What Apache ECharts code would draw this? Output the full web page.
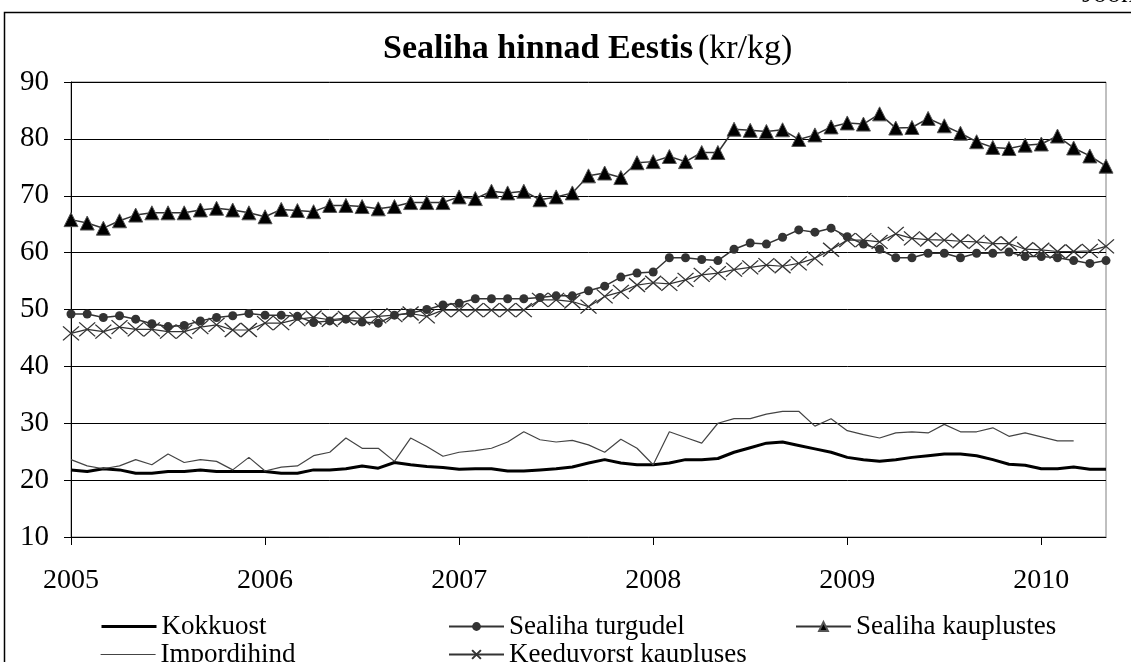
<!DOCTYPE html>
<html>
<head>
<meta charset="utf-8">
<script src="https://cdn.jsdelivr.net/npm/echarts@6/dist/echarts.min.js"></script>
<style>
  html, body { margin: 0; padding: 0; background: #fff; }
  #chart { width: 1131px; height: 662px; }
</style>
</head>
<body>
<div id="chart"></div>
<script>
// kuud jaan 2005 .. mai 2010
const years = ['2005', '2006', '2007', '2008', '2009', '2010']
const months = []
for (let y = 2005; y <= 2010; y++) {
  for (let m = 1; m <= 12; m++) {
    if (y === 2010 && m > 5) break
    months.push(y + '-' + (m < 10 ? '0' + m : m))
  }
}

const kokkuost = [
  21.8, 21.5, 22.0, 21.8, 21.2, 21.2, 21.5, 21.5, 21.8, 21.5, 21.5, 21.5,
  21.5, 21.2, 21.2, 21.8, 21.8, 22.0, 22.5, 22.1, 23.1, 22.7, 22.4, 22.2,
  21.9, 22.0, 22.0, 21.6, 21.6, 21.8, 22.0, 22.3, 23.0, 23.6, 23.0, 22.7,
  22.7, 23.0, 23.6, 23.6, 23.8, 24.9, 25.7, 26.5, 26.7, 26.1, 25.5, 24.9,
  24.0, 23.6, 23.3, 23.6, 24.0, 24.3, 24.6, 24.6, 24.3, 23.6, 22.8, 22.6,
  22.0, 22.0, 22.3, 21.9, 21.9
]
const impordihind = [
  23.6, 22.5, 22.0, 22.5, 23.6, 22.7, 24.6, 23.1, 23.6, 23.3, 21.8, 24.0,
  21.6, 22.3, 22.5, 24.3, 24.9, 27.4, 25.6, 25.6, 23.3, 27.4, 25.9, 24.2,
  24.9, 25.2, 25.6, 26.7, 28.5, 27.1, 26.7, 27.0, 26.2, 24.9, 27.2, 25.6,
  22.7, 28.5, 27.5, 26.5, 30.0, 30.8, 30.8, 31.6, 32.1, 32.1, 29.5, 30.8,
  28.7, 28.0, 27.4, 28.3, 28.5, 28.3, 29.8, 28.5, 28.5, 29.2, 27.7, 28.3,
  27.6, 26.9, 26.9, null, null
]
const sealihaTurgudel = [
  49.2, 49.2, 48.6, 48.9, 48.3, 47.5, 47.0, 47.2, 48.0, 48.6, 48.9, 49.3,
  49.0, 49.0, 48.8, 47.7, 48.0, 48.3, 47.8, 47.6, 49.0, 49.4, 50.0, 50.8,
  51.1, 51.9, 51.9, 51.9, 51.9, 52.1, 52.4, 52.4, 53.3, 54.1, 55.7, 56.4,
  56.6, 59.1, 59.1, 58.8, 58.6, 60.6, 61.7, 61.5, 62.7, 64.0, 63.6, 64.3,
  62.8, 61.5, 60.6, 59.1, 59.1, 59.9, 59.9, 59.1, 59.9, 59.9, 60.1, 59.3,
  59.3, 59.1, 58.6, 58.1, 58.6
]
const keeduvorst = [
  45.8, 46.5, 46.1, 46.9, 46.5, 46.5, 46.1, 46.1, 46.9, 47.3, 46.4, 46.4,
  47.6, 47.6, 48.3, 48.6, 48.2, 48.5, 48.5, 48.8, 49.0, 49.3, 48.8, 49.9,
  49.9, 49.9, 49.9, 49.9, 49.9, 51.7, 51.7, 51.4, 50.5, 52.3, 53.1, 54.3,
  54.7, 54.5, 55.2, 56.1, 56.4, 57.0, 57.4, 57.8, 57.6, 58.1, 59.0, 60.5,
  62.2, 62.2, 61.9, 63.3, 62.5, 62.3, 62.2, 62.0, 61.9, 61.6, 61.6, 60.6,
  60.5, 60.2, 60.2, 60.3, 61.1
]
const sealihaKauplustes = [
  65.8, 65.2, 64.3, 65.6, 66.6, 67.0, 67.0, 67.0, 67.5, 67.8, 67.5, 67.0,
  66.3, 67.6, 67.4, 67.2, 68.3, 68.3, 68.1, 67.7, 68.1, 68.8, 68.8, 68.8,
  69.8, 69.5, 70.8, 70.5, 70.8, 69.3, 69.8, 70.5, 73.5, 74.0, 73.2, 75.8,
  76.0, 76.9, 76.0, 77.6, 77.6, 81.7, 81.5, 81.3, 81.6, 79.9, 80.7, 82.1,
  82.8, 82.6, 84.4, 81.9, 82.0, 83.6, 82.3, 81.0, 79.5, 78.5, 78.3, 78.9,
  79.1, 80.5, 78.4, 77.0, 75.2
]

const font = "'Liberation Serif', 'Times New Roman', serif"
const crossPath = 'path://M0,0L16,14M16,0L0,14'

const chart = echarts.init(document.getElementById('chart'))

// üks legend iga kirje kohta, et paigutus oleks nagu originaalis
const legendAt = (item, left, top) => ({
  data: [item],
  left: left,
  top: top,
  itemWidth: 55,
  itemHeight: 11,
  padding: 0,
  textStyle: { fontFamily: font, fontSize: 27, color: '#000' }
})
// ilma markerita joon legendis
const plainLine = (name, w) => ({ name: name, itemStyle: { opacity: 0 }, lineStyle: { width: w } })

chart.setOption({
  animation: false,
  title: {
    left: 378,
    top: 27,
    text: '{b|Sealiha hinnad Eestis} {n|(kr/kg)}',
    textStyle: {
      rich: {
        b: { fontFamily: font, fontSize: 34, fontWeight: 'bold', color: '#000' },
        n: { fontFamily: font, fontSize: 34, fontWeight: 'normal', color: '#000' }
      }
    }
  },
  graphic: [
    {
      type: 'rect',
      shape: { x: 4.5, y: 12.5, width: 1200, height: 700 },
      style: { fill: 'none', stroke: '#000', lineWidth: 1.5 }
    },
    {
      type: 'text',
      left: 1082,
      top: -19,
      style: { text: 'Joonis', font: '28px ' + font, fill: '#000' }
    }
  ],
  legend: [
    legendAt(plainLine('Kokkuost', 3), 100, 613),
    legendAt('Sealiha turgudel', 448, 613),
    legendAt('Sealiha kauplustes', 795, 613),
    legendAt(plainLine('Impordihind', 1.2), 100, 641),
    legendAt('Keeduvorst kaupluses', 448, 641)
  ],
  grid: {
    left: 71,
    right: 25,
    top: 82,
    bottom: 125,
    show: true,
    borderColor: '#808080',
    borderWidth: 1
  },
  xAxis: {
    type: 'category',
    data: months,
    boundaryGap: false,
    axisLine: { lineStyle: { color: '#000', width: 1 } },
    axisTick: {
      interval: (i) => i % 12 === 0,
      length: 8,
      lineStyle: { color: '#000' }
    },
    axisLabel: {
      interval: (i) => i % 12 === 0,
      formatter: (v, i) => years[Math.floor(i / 12)],
      margin: 30,
      fontFamily: font,
      fontSize: 28,
      color: '#000'
    },
    splitLine: { show: false }
  },
  yAxis: {
    type: 'value',
    min: 10,
    max: 90,
    interval: 10,
    axisLine: { show: true, lineStyle: { color: '#000', width: 1 } },
    axisTick: { show: true, length: 7, lineStyle: { color: '#000' } },
    axisLabel: { margin: 22, fontFamily: font, fontSize: 29, color: '#000' },
    splitLine: { lineStyle: { color: '#000', width: 1 } }
  },
  series: [
    {
      name: 'Kokkuost',
      type: 'line',
      data: kokkuost,
      symbol: 'none',
      lineStyle: { color: '#000', width: 3 },
      itemStyle: { color: '#000' }
    },
    {
      name: 'Impordihind',
      type: 'line',
      data: impordihind,
      symbol: 'none',
      lineStyle: { color: '#444', width: 1.2 },
      itemStyle: { color: '#444' }
    },
    {
      name: 'Sealiha turgudel',
      type: 'line',
      data: sealihaTurgudel,
      symbol: 'circle',
      symbolSize: 9,
      showAllSymbol: true,
      lineStyle: { color: '#333', width: 1.5 },
      itemStyle: { color: '#333' }
    },
    {
      name: 'Keeduvorst kaupluses',
      type: 'line',
      data: keeduvorst,
      symbol: crossPath,
      symbolSize: [16, 14],
      showAllSymbol: true,
      lineStyle: { color: '#333', width: 1.2 },
      itemStyle: { color: 'none', borderColor: '#333', borderWidth: 1.3 }
    },
    {
      name: 'Sealiha kauplustes',
      type: 'line',
      data: sealihaKauplustes,
      symbol: 'triangle',
      symbolSize: 14,
      showAllSymbol: true,
      lineStyle: { color: '#333', width: 1.5 },
      itemStyle: { color: '#000', borderColor: '#555', borderWidth: 1 }
    }
  ]
})
</script>
</body>
</html>
